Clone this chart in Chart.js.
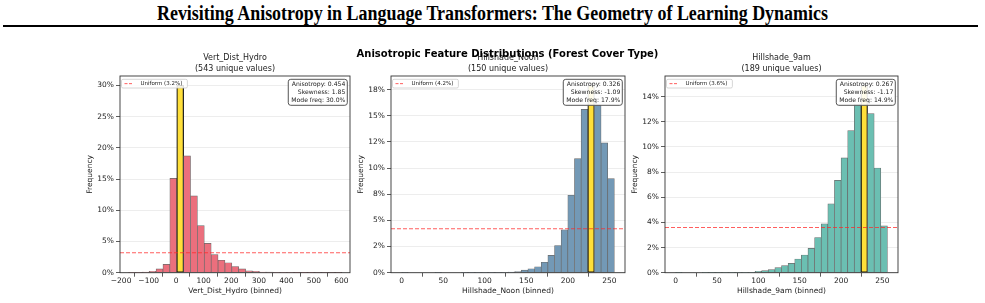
<!DOCTYPE html>
<html>
<head>
<meta charset="utf-8">
<script src="https://cdn.jsdelivr.net/npm/chart.js@4.4.0/dist/chart.umd.min.js"></script>
<style>
  html, body { margin: 0; padding: 0; background: #fff; }
  body { width: 985px; height: 303px; position: relative; overflow: hidden; }
  #page-title {
    position: absolute; left: 0; width: 985px; top: 2px; text-align: center;
    font: bold 20px 'Liberation Serif', 'Times New Roman', serif; color: #000; white-space: nowrap;
    transform: scaleX(0.897); transform-origin: 492px 0;
  }
  #rule { position: absolute; left: 3px; width: 975px; top: 24.5px; height: 2px; background: #000; }
  #suptitle {
    position: absolute; left: 0; width: 1015px; top: 48px; text-align: center; z-index: 5;
    font: bold 10px 'DejaVu Sans', sans-serif; line-height: 12px; color: #000; white-space: nowrap;
  }
  canvas { position: absolute; top: 50px; }
</style>
</head>
<body>
<div id="page-title">Revisiting Anisotropy in Language Transformers: The Geometry of Learning Dynamics</div>
<div id="rule"></div>
<div id="suptitle">Anisotropic Feature Distributions (Forest Cover Type)</div>
<canvas id="c1" width="272" height="253" style="left:80px"></canvas>
<canvas id="c2" width="276" height="253" style="left:351px"></canvas>
<canvas id="c3" width="275" height="253" style="left:625px"></canvas>

<script>
// ── Data (frequency in % per bin) ──────────────────────────

// Vert_Dist_Hydro: 31 bins, 25 wide, starting at -173
const vdhBinStart = -173, vdhBinWidth = 25;
const vdhFreq = [0.04, 0.05, 0.1, 0.22, 0.6, 1.35, 15.1, 30.0, 18.7, 12.3, 7.55, 4.7, 2.9,
                 2.0, 1.6, 1.0, 0.6, 0.3, 0.2, 0.1, 0.08, 0.06, 0.04, 0.03, 0.02, 0.02,
                 0.02, 0.01, 0.01, 0.01, 0.01];
const vdhXTicks  = [-200, -100, 0, 100, 200, 300, 400, 500, 600];
const vdhYTicks  = [0, 5, 10, 15, 20, 25, 30];
const vdhYLabels = ['0%', '5%', '10%', '15%', '20%', '25%', '30%'];
const vdhStats   = ['Anisotropy: 0.454', 'Skewness: 1.85', 'Mode freq: 30.0%'];

// Hillshade_Noon: 32 bins, 8 wide, from 0
const hnBinStart = 0, hnBinWidth = 8;
const hnFreq = [0.04, 0, 0, 0, 0, 0.03, 0, 0, 0, 0.02, 0.03, 0.02, 0.02, 0.03, 0.03, 0.04,
                0.06, 0.1, 0.25, 0.38, 0.57, 1.0, 1.65, 2.6, 4.1, 7.4, 10.9, 15.6, 17.9,
                16.0, 12.4, 9.0];
const hnXTicks  = [0, 50, 100, 150, 200, 250];
const hnYTicks  = [0, 2.5, 5, 7.5, 10, 12.5, 15, 17.5];
const hnYLabels = ['0%', '2%', '5%', '8%', '10%', '12%', '15%', '18%'];
const hnStats   = ['Anisotropy: 0.326', 'Skewness: -1.09', 'Mode freq: 17.9%'];

// Hillshade_9am: 32 bins, 8 wide, from 0
const h9BinStart = 0, h9BinWidth = 8;
const h9Freq = [0.03, 0, 0, 0, 0.03, 0.02, 0.02, 0.02, 0.02, 0.02, 0.02, 0.02, 0.1, 0.17,
                0.25, 0.4, 0.56, 0.75, 1.09, 1.41, 1.94, 2.8, 3.89, 5.48, 7.35, 9.13, 11.3,
                13.4, 14.9, 12.65, 8.33, 3.73];
const h9XTicks  = [0, 50, 100, 150, 200, 250];
const h9YTicks  = [0, 2, 4, 6, 8, 10, 12, 14];
const h9YLabels = ['0%', '2%', '4%', '6%', '8%', '10%', '12%', '14%'];
const h9Stats   = ['Anisotropy: 0.267', 'Skewness: -1.17', 'Mode freq: 14.9%'];

const uniformPct = [3.2, 4.2, 3.6];

// ── Panels ─────────────────────────────────────────────────

const panels = [
  { id: 'c1', name: 'Vert_Dist_Hydro', unique: 543, start: vdhBinStart, width: vdhBinWidth,
    freq: vdhFreq, xTicks: vdhXTicks, yTicks: vdhYTicks, yLabels: vdhYLabels, stats: vdhStats,
    uniform: uniformPct[0], xMin: -204, xMax: 631, fill: '#eb6f7d' },
  { id: 'c2', name: 'Hillshade_Noon', unique: 150, start: hnBinStart, width: hnBinWidth,
    freq: hnFreq, xTicks: hnXTicks, yTicks: hnYTicks, yLabels: hnYLabels, stats: hnStats,
    uniform: uniformPct[1], xMin: -12.8, xMax: 268.8, fill: '#7399b6' },
  { id: 'c3', name: 'Hillshade_9am', unique: 189, start: h9BinStart, width: h9BinWidth,
    freq: h9Freq, xTicks: h9XTicks, yTicks: h9YTicks, yLabels: h9YLabels, stats: h9Stats,
    uniform: uniformPct[2], xMin: -12.8, xMax: 268.8, fill: '#6bbfb2' }
];

const FONT = 'DejaVu Sans';
const TXT  = '#222';

const fmtTick = v => (v < 0 ? '\u2212' + Math.abs(v) : String(v));

// frame + in-axes legend + stats box
const boxes = {
  id: 'boxes',
  afterDatasetsDraw(chart, args, opts) {
    const { ctx, chartArea: a } = chart;
    const uni = chart.data.datasets[1];

    // legend (upper left)
    ctx.save();
    ctx.font = `5.5px '${FONT}'`;
    const lw = ctx.measureText(uni.label).width;
    const lx = a.left + 1.5, ly = a.top + 3.3, lh = 8.7, lwid = lw + 24;
    ctx.fillStyle = 'rgba(255,255,255,0.85)';
    ctx.strokeStyle = '#cccccc'; ctx.lineWidth = 0.8;
    ctx.beginPath(); ctx.roundRect(lx, ly, lwid, lh, 1.5); ctx.fill(); ctx.stroke();
    ctx.strokeStyle = uni.borderColor; ctx.lineWidth = 1; ctx.setLineDash([3, 1.5]);
    ctx.beginPath(); ctx.moveTo(lx + 3, ly + lh / 2); ctx.lineTo(lx + 12, ly + lh / 2); ctx.stroke();
    ctx.setLineDash([]);
    ctx.fillStyle = TXT; ctx.textBaseline = 'middle'; ctx.textAlign = 'left';
    ctx.fillText(uni.label, lx + 19, ly + lh / 2 + 0.3);

    // stats box (upper right)
    const lines = opts.lines || [];
    ctx.font = `6.1px '${FONT}'`;
    const tw = Math.max(...lines.map(s => ctx.measureText(s).width));
    const bw = tw + 5, bh = 26, bx = a.right - 2.7 - bw, by = a.top + 3.3;
    ctx.fillStyle = 'rgba(255,255,255,0.9)';
    ctx.strokeStyle = '#555'; ctx.lineWidth = 1;
    ctx.beginPath(); ctx.roundRect(bx, by, bw, bh, 2.5); ctx.fill(); ctx.stroke();
    ctx.fillStyle = TXT; ctx.textAlign = 'right';
    lines.forEach((s, i) => ctx.fillText(s, bx + bw - 2, by + 5 + i * 8));
    ctx.restore();
  },
  afterDraw(chart) {
    const { ctx, chartArea: a } = chart;
    ctx.save();
    ctx.strokeStyle = '#333'; ctx.lineWidth = 0.9;
    ctx.strokeRect(a.left, a.top, a.right - a.left, a.bottom - a.top);
    ctx.restore();
  }
};

function drawPanel(p) {
  const centers = p.freq.map((_, i) => p.start + p.width * (i + 0.5));
  const modeIdx = p.freq.indexOf(Math.max(...p.freq));
  const yMax = Math.max(...p.freq) * 1.05;

  new Chart(document.getElementById(p.id), {
    type: 'bar',
    data: {
      datasets: [{
        type: 'bar',
        data: centers.map((x, i) => ({ x, y: p.freq[i] })),
        backgroundColor: p.freq.map((_, i) => i === modeIdx ? '#ffdf3a' : p.fill),
        borderColor: p.freq.map((_, i) => i === modeIdx ? '#111' : '#6a6a6a'),
        borderWidth: p.freq.map((_, i) => i === modeIdx ? 1.2 : 0.7),
        borderSkipped: false,
        barPercentage: 1, categoryPercentage: 1,
        order: 2
      }, {
        type: 'line',
        label: `Uniform (${p.uniform.toFixed(1)}%)`,
        data: [{ x: p.xMin, y: p.uniform }, { x: p.xMax, y: p.uniform }],
        borderColor: 'rgba(255,40,40,0.75)',
        borderWidth: 1.1, borderDash: [4, 2],
        pointRadius: 0, fill: false,
        order: 1
      }]
    },
    options: {
      responsive: false, animation: false, devicePixelRatio: 1,
      layout: { padding: { left: 0, right: 2, top: 0, bottom: 4 } },
      plugins: {
        legend: { display: false },
        tooltip: { enabled: false },
        title: {
          display: true, fullSize: false,
          text: [p.name, `(${p.unique} unique values)`],
          font: { family: FONT, size: 8, weight: 'normal', lineHeight: 1.35 },
          color: TXT, padding: { top: 2.6, bottom: 1.8 }
        },
        boxes: { lines: p.stats }
      },
      scales: {
        x: {
          type: 'linear', min: p.xMin, max: p.xMax, offset: false,
          afterBuildTicks: s => { s.ticks = p.xTicks.map(v => ({ value: v })); },
          afterFit: s => { s.height = 26.3; },
          ticks: { font: { family: FONT, size: 7.5 }, color: TXT, padding: 0,
                   autoSkip: false, maxRotation: 0, callback: v => fmtTick(v) },
          grid: { drawOnChartArea: false, tickLength: 4, tickColor: '#333', tickWidth: 0.8 },
          border: { display: false },
          title: { display: true, text: p.name + ' (binned)', color: TXT,
                   font: { family: FONT, size: 7.5, lineHeight: 1.2 }, padding: { top: 0, bottom: 3.5 } }
        },
        y: {
          min: 0, max: yMax,
          afterBuildTicks: s => { s.ticks = p.yTicks.map(v => ({ value: v })); },
          afterFit: s => { s.width = 40; },
          ticks: { font: { family: FONT, size: 7.5 }, color: TXT, padding: 2, autoSkip: false,
                   callback: v => p.yLabels[p.yTicks.indexOf(v)] },
          grid: { color: '#e8e8e8', lineWidth: 0.8, tickLength: 4, tickColor: '#333', tickWidth: 0.8 },
          border: { display: false },
          title: { display: true, text: 'Frequency', color: TXT,
                   font: { family: FONT, size: 7.5, lineHeight: 1.2 }, padding: { top: 5.5, bottom: 0 } }
        }
      }
    },
    plugins: [boxes]
  });
}

panels.forEach(drawPanel);
</script>
</body>
</html>
